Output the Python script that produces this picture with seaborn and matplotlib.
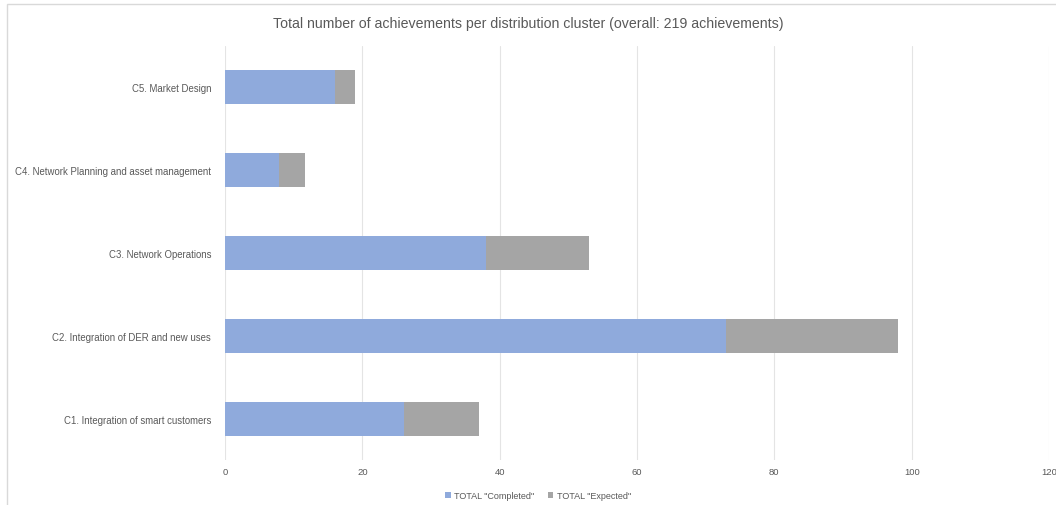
import seaborn as sns
import matplotlib.pyplot as plt
import pandas as pd
from matplotlib.patches import Rectangle

clusters = [
    "C1. Integration of smart customers",
    "C2. Integration of DER and new uses",
    "C3. Network Operations",
    "C4. Network Planning and asset management",
    "C5. Market Design",
]
completed = [26, 73, 38, 7.8, 16]
expected = [11, 25, 15, 3.8, 3]

df = pd.DataFrame({"cluster": clusters, "completed": completed, "expected": expected})
df["total"] = df["completed"] + df["expected"]
order = clusters[::-1]

sns.set_style("white")
plt.rcParams["font.family"] = ["Liberation Sans", "DejaVu Sans"]
text_col = "#595959"

fig = plt.figure(figsize=(10.56, 5.06), dpi=100)
ax = fig.add_axes([0.2131, 0.088, 0.7803, 0.82])

# gray = total, blue (completed) drawn over it
sns.barplot(data=df, y="cluster", x="total", order=order, color="#A5A5A5",
            width=0.4, saturation=1, linewidth=0, ax=ax, label='TOTAL "Expected"')
sns.barplot(data=df, y="cluster", x="completed", order=order, color="#8FAADC",
            width=0.4, saturation=1, linewidth=0, ax=ax, label='TOTAL "Completed"')

ax.set_xlim(0, 120)
ax.set_xticks(range(0, 121, 20))
ax.set_xlabel("")
ax.set_ylabel("")
ax.grid(axis="x", color="#E4E4E4", linewidth=0.8)
ax.set_axisbelow(True)
sns.despine(ax=ax, left=True, bottom=True)
ax.tick_params(axis="x", length=0, labelsize=6.8, colors=text_col, pad=5)
ax.tick_params(axis="y", length=0, labelsize=6.9, colors=text_col, pad=10)

handles, labels = ax.get_legend_handles_labels()
ax.legend(handles[::-1], labels[::-1], loc="upper center", bbox_to_anchor=(0.38, -0.055),
          ncol=2, frameon=False, fontsize=6.5, handlelength=0.6, handleheight=0.6,
          columnspacing=1.5, handletextpad=0.4, labelcolor=text_col)

fig.text(0.5, 0.952, "Total number of achievements per distribution cluster (overall: 219 achievements)",
         ha="center", va="center", fontsize=10.2, color=text_col)

fig.patches.append(Rectangle((7 / 1056, -0.1), 1.2, 1.1 - 5 / 506,
                             transform=fig.transFigure, fill=False,
                             edgecolor="#D9D9D9", linewidth=1))

fig.savefig("out.png", dpi=100)
